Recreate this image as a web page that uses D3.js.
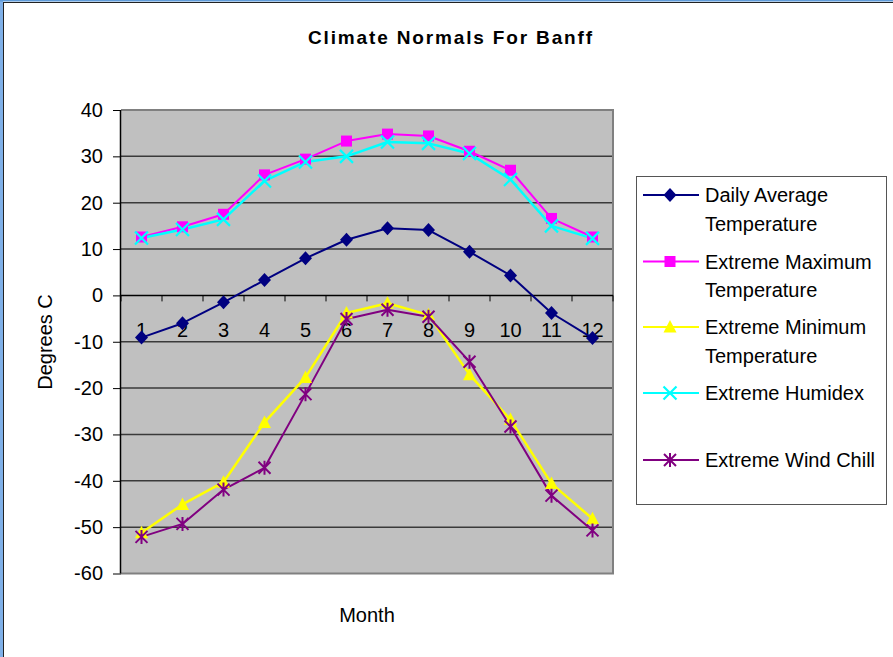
<!DOCTYPE html>
<html>
<head>
<meta charset="utf-8">
<script src="https://cdn.jsdelivr.net/npm/d3@7"></script>
<style>
  html, body { margin: 0; padding: 0; background: #fff; }
  svg { display: block; font-family: "Liberation Sans", Arial, sans-serif; }
</style>
</head>
<body>
<svg id="chart" width="893" height="657"></svg>
<script>
const months = [1,2,3,4,5,6,7,8,9,10,11,12];
const yTicks = [40,30,20,10,0,-10,-20,-30,-40,-50,-60];
const dailyAverage = [-9.1,-6.0,-1.5,3.3,8.0,12.0,14.5,14.1,9.4,4.3,-3.8,-9.2];
const extremeMax   = [12.6,14.8,17.5,26.0,29.4,33.3,34.8,34.4,31.1,27.0,16.6,12.6];
const extremeMin   = [-51.2,-45.1,-40.3,-27.4,-17.7,-3.8,-1.7,-4.2,-17.1,-26.8,-40.6,-48.2];
const humidex      = [12.4,14.2,16.4,24.7,28.8,30.0,33.1,32.8,30.6,25.0,15.0,12.3];
const windChill    = [-52.1,-49.3,-41.9,-37.2,-21.3,-5.1,-3.1,-4.6,-14.3,-28.3,-43.2,-50.7];
const seriesNames = [["Daily Average","Temperature"],["Extreme Maximum","Temperature"],["Extreme Minimum","Temperature"],["Extreme Humidex"],["Extreme Wind Chill"]];
const seriesColors = ["#000080","#ff00ff","#ffff00","#00ffff","#800080"];
const seriesMarkers = ["diamond","square","triangle","x","star"];
const seriesWidths = [2,2,2.5,2.5,2];

const series = [dailyAverage, extremeMax, extremeMin, humidex, windChill].map((v,i)=>({
  values: v, name: seriesNames[i], color: seriesColors[i], marker: seriesMarkers[i], width: seriesWidths[i]
}));

const svg = d3.select("#chart");
const L = 121, R = 613, T = 110, B = 573.5;

// window frame remnant
svg.append("rect").attr("x",0).attr("y",0).attr("width",3).attr("height",657).attr("fill","#7fb0e8");
svg.append("rect").attr("x",0).attr("y",0).attr("width",893).attr("height",1.5).attr("fill","#5e9ad8");
svg.append("line").attr("x1",3.5).attr("x2",3.5).attr("y1",2).attr("y2",657).attr("stroke","#222").attr("stroke-width",1);
svg.append("line").attr("x1",3).attr("x2",893).attr("y1",2.5).attr("y2",2.5).attr("stroke","#222").attr("stroke-width",1);

const x = d3.scaleBand().domain(months).range([L, R]).paddingInner(0).paddingOuter(0);
const y = d3.scaleLinear().domain([-60, 40]).range([B, T]);
const cx = m => x(m) + x.bandwidth()/2;

// plot background
svg.append("rect").attr("x",L).attr("y",T).attr("width",R-L).attr("height",B-T).attr("fill","#c0c0c0");

// gridlines
svg.append("g").selectAll("line").data(yTicks.filter(t => t>-60 && t<40 && t!==0)).join("line")
  .attr("x1",L).attr("x2",R).attr("y1",d=>y(d)).attr("y2",d=>y(d))
  .attr("stroke","#3a3a3a").attr("stroke-width",1.5);

// plot border (gray)
svg.append("path").attr("d",`M${L},${T}H${R}V${B}H${L}`).attr("fill","none").attr("stroke","#808080").attr("stroke-width",2);

// y axis
const yAxis = d3.axisLeft(y).tickValues(yTicks).tickSize(8).tickPadding(10).tickFormat(d => String(d));
const gy = svg.append("g").attr("transform",`translate(${L},0)`).call(yAxis);
gy.select(".domain").attr("stroke","#000").attr("stroke-width",1.5).attr("d",`M-0.5,${T}V${B}`);
gy.selectAll(".tick line").attr("stroke","#000").attr("stroke-width",1);
gy.selectAll(".tick text").attr("font-size",20).attr("fill","#000").attr("font-family","Liberation Sans, Arial, sans-serif").attr("x",-18);

// x axis at 0
const y0 = y(0);
svg.append("line").attr("x1",L).attr("x2",R).attr("y1",y0).attr("y2",y0).attr("stroke","#000").attr("stroke-width",1.5);
const boundaries = months.map(m => x(m)).concat([R]);
svg.append("g").selectAll("line").data(boundaries).join("line")
  .attr("x1",d=>d).attr("x2",d=>d).attr("y1",y0).attr("y2",y0+6).attr("stroke","#000").attr("stroke-width",1);
svg.append("g").selectAll("text").data(months).join("text")
  .attr("x",d=>cx(d)).attr("y",337).attr("text-anchor","middle").attr("font-size",20).attr("fill","#000")
  .text(d=>d);

// series lines
series.forEach(s => {
  const line = d3.line().x((d,i)=>cx(months[i])).y(d=>y(d));
  svg.append("path").attr("d", line(s.values)).attr("fill","none").attr("stroke",s.color).attr("stroke-width",s.width).attr("stroke-linejoin","round");
});

function drawMarker(g, type, px, py, color) {
  if (type === "diamond") {
    g.append("path").attr("d",`M${px},${py-7}L${px+6.5},${py}L${px},${py+7}L${px-6.5},${py}Z`).attr("fill",color);
  } else if (type === "square") {
    g.append("rect").attr("x",px-5.5).attr("y",py-5.5).attr("width",11).attr("height",11).attr("fill",color);
  } else if (type === "triangle") {
    g.append("path").attr("d",`M${px},${py-7}L${px+6.5},${py+5.5}L${px-6.5},${py+5.5}Z`).attr("fill",color);
  } else if (type === "x") {
    const r = 6.5;
    g.append("path").attr("d",`M${px-r},${py-r}L${px+r},${py+r}M${px-r},${py+r}L${px+r},${py-r}`).attr("stroke",color).attr("stroke-width",2.2).attr("fill","none");
  } else if (type === "star") {
    const r = 6;
    g.append("path").attr("d",`M${px-r},${py-r}L${px+r},${py+r}M${px-r},${py+r}L${px+r},${py-r}M${px},${py-r-1}L${px},${py+r+1}`).attr("stroke",color).attr("stroke-width",2).attr("fill","none");
  }
}

series.forEach(s => {
  const g = svg.append("g");
  s.values.forEach((v,i) => drawMarker(g, s.marker, cx(months[i]), y(v), s.color));
});

// title
svg.append("text").attr("x",450).attr("y",44).attr("text-anchor","middle")
  .attr("font-size",19).attr("font-weight","bold").attr("fill","#000")
  .attr("textLength",284).attr("lengthAdjust","spacing")
  .text("Climate Normals For Banff");

// axis titles
svg.append("text").attr("x",367).attr("y",622).attr("text-anchor","middle").attr("font-size",20).attr("fill","#000").text("Month");
svg.append("text").attr("transform","translate(52,342) rotate(-90)").attr("text-anchor","middle").attr("font-size",20).attr("fill","#000").text("Degrees C");

// legend
svg.append("rect").attr("x",636.5).attr("y",176.5).attr("width",250).attr("height",328).attr("fill","#fff").attr("stroke","#555").attr("stroke-width",1);
const legendY = [195, 261.5, 327, 393, 460];
series.forEach((s,i) => {
  const ly = legendY[i];
  const g = svg.append("g");
  g.append("line").attr("x1",643).attr("x2",699).attr("y1",ly).attr("y2",ly).attr("stroke",s.color).attr("stroke-width",2);
  drawMarker(g, s.marker, 670, ly, s.color);
  s.name.forEach((t,k) => {
    g.append("text").attr("x",705).attr("y",ly+7+k*28.5).attr("font-size",20).attr("fill","#000").text(t);
  });
});
</script>
</body>
</html>
